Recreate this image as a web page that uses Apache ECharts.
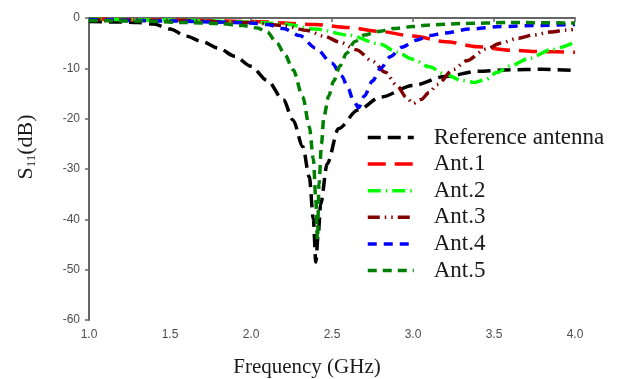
<!DOCTYPE html>
<html>
<head>
<meta charset="utf-8">
<script src="https://cdn.jsdelivr.net/npm/echarts@6/dist/echarts.min.js"></script>
<style>
  html, body { margin: 0; padding: 0; background: #fff; }
  #chart { width: 628px; height: 379px; }
</style>
</head>
<body>
<div id="chart"></div>
<script>
// S11 curves, frequency in GHz, return loss in dB
const refFreq = [1.0, 1.2, 1.3, 1.4, 1.5, 1.6, 1.7, 1.8, 1.9, 2.0, 2.1, 2.2, 2.26, 2.32, 2.36, 2.385, 2.40, 2.415, 2.43, 2.47, 2.54, 2.66, 2.8, 3.0, 3.2, 3.4, 3.6, 3.8, 4.0];
const refS11 = [-0.7, -0.8, -0.9, -1.2, -2.2, -3.6, -4.7, -6.0, -7.6, -9.6, -12.4, -16.3, -20.3, -25.6, -31.6, -40, -48.5, -43, -37, -29, -22, -18.3, -15.7, -13.4, -11.6, -10.6, -10.3, -10.2, -10.4];

const ant1Freq = [1.0, 1.5, 2.0, 2.4, 2.6, 2.8, 3.0, 3.2, 3.4, 3.6, 3.8, 4.0];
const ant1S11 = [-0.2, -0.4, -0.7, -1.3, -1.9, -2.7, -3.6, -4.7, -5.7, -6.4, -6.7, -6.8];

const ant2Freq = [1.0, 1.5, 2.0, 2.2, 2.4, 2.6, 2.8, 2.9, 3.0, 3.1, 3.2, 3.3, 3.38, 3.45, 3.52, 3.6, 3.72, 3.85, 4.0];
const ant2S11 = [-0.2, -0.4, -0.8, -1.2, -2.2, -3.4, -5.2, -6.8, -8.2, -9.7, -11.2, -12.4, -12.8, -12.2, -10.8, -9.5, -8.0, -6.3, -4.8];

const ant3Freq = [1.0, 1.5, 2.0, 2.2, 2.35, 2.45, 2.55, 2.65, 2.75, 2.83, 2.9, 2.96, 3.0, 3.05, 3.1, 3.15, 3.25, 3.33, 3.45, 3.54, 3.65, 3.74, 3.85, 3.95, 4.0];
const ant3S11 = [-0.3, -0.5, -0.9, -1.5, -2.5, -3.6, -4.8, -6.3, -8.6, -10.8, -13.4, -15.8, -17.0, -16.2, -14.8, -13.2, -10.2, -8.5, -6.2, -5.0, -4.0, -3.4, -2.8, -2.4, -2.2];

const ant4Freq = [1.0, 1.5, 1.8, 2.0, 2.1, 2.2, 2.3, 2.4, 2.5, 2.56, 2.6, 2.63, 2.665, 2.7, 2.75, 2.8, 2.86, 2.93, 3.02, 3.1, 3.19, 3.35, 3.54, 3.75, 4.0];
const ant4S11 = [-0.3, -0.6, -0.8, -1.0, -1.3, -2.1, -3.5, -6.0, -9.0, -11.5, -14.0, -16.3, -17.8, -15.5, -12.5, -10.0, -7.7, -5.8, -4.4, -3.5, -3.0, -2.2, -1.7, -1.5, -1.3];

const ant5Freq = [1.0, 1.3, 1.6, 1.8, 1.95, 2.04, 2.1, 2.16, 2.21, 2.26, 2.32, 2.36, 2.385, 2.40, 2.41, 2.42, 2.435, 2.45, 2.48, 2.51, 2.55, 2.59, 2.64, 2.7, 2.78, 2.88, 3.0, 3.1, 3.3, 3.6, 4.0];
const ant5S11 = [-0.5, -0.6, -0.9, -1.1, -1.5, -2.0, -2.8, -5.0, -7.3, -10.3, -15.7, -21.6, -28, -36, -44, -33, -25, -19.5, -15.5, -12.5, -9.5, -7.0, -4.7, -3.4, -2.7, -2.1, -1.7, -1.4, -1.1, -0.9, -1.0];

const seriesNames = ["Reference antenna", "Ant.1", "Ant.2", "Ant.3", "Ant.4", "Ant.5"];
const seriesFreqs = [refFreq, ant1Freq, ant2Freq, ant3Freq, ant4Freq, ant5Freq];
const seriesValues = [refS11, ant1S11, ant2S11, ant3S11, ant4S11, ant5S11];

const xTicks = [1.0, 1.5, 2.0, 2.5, 3.0, 3.5, 4.0];
const yTicks = [-60, -50, -40, -30, -20, -10, 0];

// line looks per curve
const colors = ["#000000", "#ff0000", "#00ff00", "#800000", "#0000ff", "#008000"];
const dashes = [
  [13, 7],
  [18, 9],
  [13, 5, 1.5, 5],
  [12, 5, 1.5, 5, 1.5, 5],
  [9, 7],
  [9, 6],
];

const chart = echarts.init(document.getElementById("chart"), null, { renderer: "canvas" });

const axisColor = "#666666";
const labelColor = "#4d4d4d";
const serif = "Liberation Serif, Times New Roman, serif";

function zip(xs, ys) {
  return xs.map((x, i) => [x, ys[i]]);
}

const series = seriesNames.map((name, i) => ({
  name,
  type: "line",
  data: zip(seriesFreqs[i], seriesValues[i]),
  symbol: "none",
  smooth: 0.3,
  smoothMonotone: "x",
  lineStyle: {
    color: colors[i],
    width: 3.5,
    type: dashes[i],
    cap: "butt",
  },
  itemStyle: { color: colors[i] },
  emphasis: { disabled: true },
}));

chart.setOption({
  animation: false,
  grid: { left: 89, right: 53, top: 18, bottom: 59, containLabel: false },
  xAxis: {
    type: "value",
    min: xTicks[0],
    max: xTicks[xTicks.length - 1],
    interval: 0.5,
    axisLine: { show: true, lineStyle: { color: axisColor, width: 2 } },
    axisTick: { show: true, length: 4, lineStyle: { color: axisColor, width: 1.5 } },
    axisLabel: {
      margin: 9,
      color: labelColor,
      fontFamily: "Liberation Sans, Arial, sans-serif",
      fontSize: 12,
      formatter: (v) => v.toFixed(1),
    },
    splitLine: { show: false },
  },
  yAxis: {
    type: "value",
    min: yTicks[0],
    max: yTicks[yTicks.length - 1],
    interval: 10,
    axisLine: { show: true, onZero: false, lineStyle: { color: axisColor, width: 2 } },
    axisTick: { show: true, length: 4, lineStyle: { color: axisColor, width: 1.5 } },
    axisLabel: {
      margin: 9,
      color: labelColor,
      fontFamily: "Liberation Sans, Arial, sans-serif",
      fontSize: 12,
    },
    splitLine: { show: false },
  },
  legend: {
    orient: "vertical",
    left: 366,
    top: 126,
    padding: 0,
    itemWidth: 46,
    itemHeight: 12,
    itemGap: 3.6,
    itemStyle: { opacity: 0 },
    lineStyle: { width: 3.5 },
    textStyle: {
      fontFamily: serif,
      fontSize: 23,
      lineHeight: 22,
      color: "#1a1a1a",
      padding: [0, 0, 0, 15],
    },
    data: seriesNames,
  },
  graphic: [
    {
      type: "text",
      x: 307,
      y: 367,
      style: {
        text: "Frequency (GHz)",
        font: "21px 'Liberation Serif', 'Times New Roman', serif",
        fill: "#1a1a1a",
        align: "center",
        verticalAlign: "middle",
      },
    },
    {
      type: "text",
      x: 26,
      y: 147,
      rotation: Math.PI / 2,
      style: {
        text: "{a|S}{b|11}{a|(dB)}",
        align: "center",
        verticalAlign: "middle",
        fill: "#1a1a1a",
        rich: {
          a: { fontFamily: serif, fontSize: 22, lineHeight: 24, fill: "#1a1a1a" },
          b: { fontFamily: serif, fontSize: 13, lineHeight: 10, verticalAlign: "bottom", fill: "#1a1a1a" },
        },
      },
    },
  ],
  series,
});
</script>
</body>
</html>
